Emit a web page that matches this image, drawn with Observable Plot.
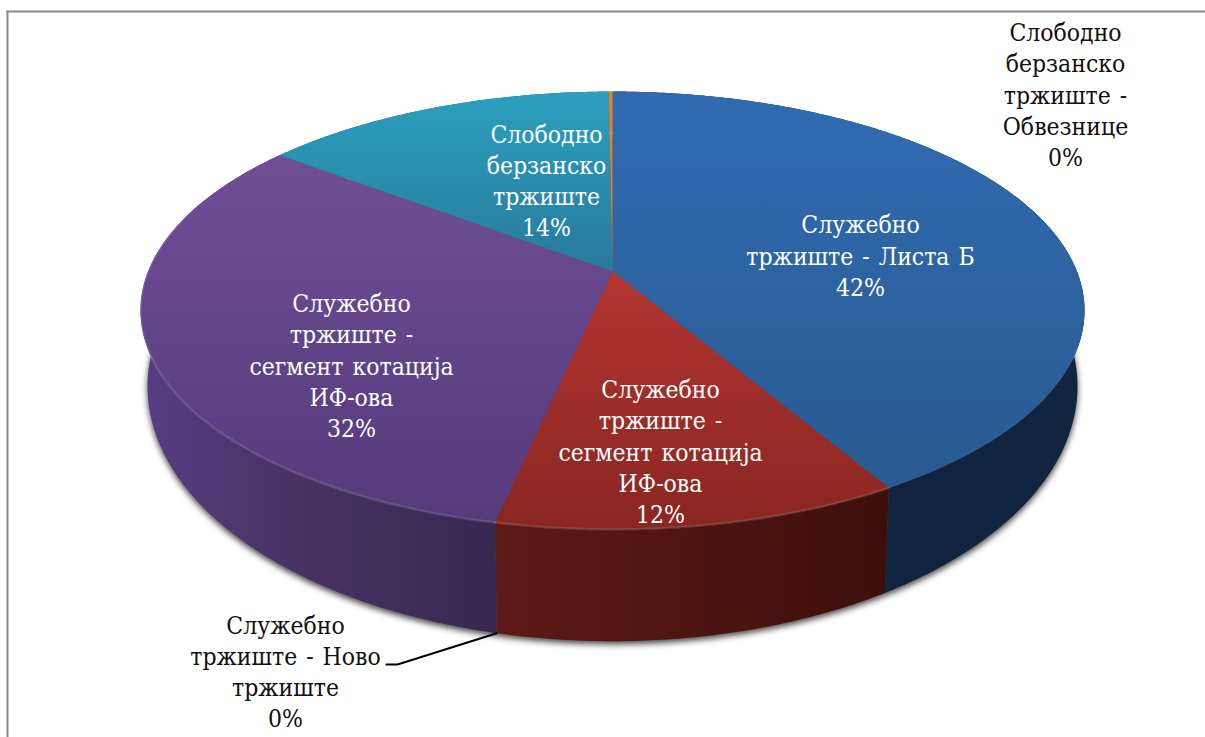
<!DOCTYPE html>
<html>
<head>
<meta charset="utf-8">
<script src="https://cdn.jsdelivr.net/npm/d3@7"></script>
<script src="https://cdn.jsdelivr.net/npm/@observablehq/plot@0.6"></script>
<style>html,body{margin:0;padding:0;background:#fff}svg{display:block}svg text{word-spacing:2px}</style>
</head>
<body>
<div id="chart"></div>
<script>
// Data, in drawing order clockwise from twelve o'clock
const categories = [
  "Служебно\nтржиште - Листа Б",
  "Служебно\nтржиште -\nсегмент котација\nИФ-ова",
  "Служебно\nтржиште - Ново\nтржиште",
  "Служебно\nтржиште -\nсегмент котација\nИФ-ова",
  "Слободно\nберзанско\nтржиште",
  "Слободно\nберзанско\nтржиште -\nОбвезнице"
];
const values = [41.6, 11.75, 0, 32.05, 14.45, 0.15];
const percents = ["42%", "12%", "0%", "32%", "14%", "0%"];

// Styling and layout, separate from the data
const topFills = ["url(#t0)", "url(#t1)", "#555", "url(#t3)", "url(#t4)", "#e08030"];
const sideFills = ["#10243f", "url(#s1)", "#555", "url(#s3)", "#1f6070", "#8a5020"];
const labelCenters = [[860, 254], [660, 450], [285, 670], [351, 364], [546, 179], [1065, 93]];
const labelColors = ["#fff", "#fff", "#111", "#fff", "#fff", "#111"];

const cx = 612, cy = 271, A = 212, B = 464.5, K = 0.178;
const baseSX = 0.985, baseSY = 1.164, baseCy = 340.5;
function face(theta, sx, sy, yc) {
  const u = Math.sin(theta), v = Math.cos(theta), d = 1 + K * v;
  return {x: cx + sx * B * u / d, y: yc - sy * A * v / d};
}
const topAt = t => face(t, 1, 1, cy);
const baseAt = t => face(t, baseSX, baseSY, baseCy);
const total = d3.sum(values);
let acc = 0;
const slices = values.map((v, i) => {
  const a0 = acc / total * 2 * Math.PI; acc += v;
  return {i, a0, a1: acc / total * 2 * Math.PI};
}).filter(s => s.a1 > s.a0);

function arc(a0, a1, at) {
  const n = Math.max(2, Math.ceil((a1 - a0) / 0.01));
  return d3.range(n + 1).map(k => at(a0 + (a1 - a0) * k / n));
}
const topPts = slices.flatMap(s => [{x: cx, y: cy}, ...arc(s.a0, s.a1, topAt)].map(p => ({...p, slice: s.i})));
const sidePts = slices.flatMap(s => [...arc(s.a0, s.a1, topAt), ...arc(s.a0, s.a1, baseAt).reverse()].map(p => ({...p, slice: s.i})));
// faint light rim on the front edge of the red and purple faces
const rimEnd = 285 * Math.PI / 180;
const rimPts = slices.filter(s => s.i === 1 || s.i === 3).flatMap(s => arc(s.a0, Math.min(s.a1, rimEnd), topAt).map(p => ({...p, slice: s.i})));
const basePts = arc(0, 2 * Math.PI, baseAt);

// The zero-value slice sits on the red/purple boundary; its leader ends on the base there
const zeroAngle = slices.find(s => s.i === 3).a0;
const leader = [{x: 386, y: 664}, {x: 397, y: 664}, baseAt(zeroAngle)];

const labels = categories.map((c, i) => ({
  text: (c + "\n" + percents[i]),
  x: labelCenters[i][0], y: labelCenters[i][1], color: labelColors[i]
}));

function defs() {
  const svg = d3.create("svg:defs");
  const grad = (id, x1, y1, x2, y2, stops) => {
    const g = svg.append("linearGradient").attr("id", id).attr("gradientUnits", "userSpaceOnUse")
      .attr("x1", x1).attr("y1", y1).attr("x2", x2).attr("y2", y2);
    stops.forEach(([o, c]) => g.append("stop").attr("offset", o).attr("stop-color", c));
  };
  grad("t0", 0, 91, 0, 495, [[0, "#306bb2"], [1, "#295a90"]]);
  grad("t1", 0, 271, 0, 528, [[0, "#b33530"], [1, "#8a2622"]]);
  grad("t3", 0, 155, 0, 525, [[0, "#6f4e96"], [1, "#553a7c"]]);
  grad("t4", 0, 91, 0, 272, [[0, "#2ba0be"], [1, "#28799c"]]);
  grad("s1", 497, 0, 885, 0, [[0, "#5e1a16"], [1, "#3d0f0b"]]);
  grad("s3", 145, 0, 497, 0, [[0, "#563c82"], [0.35, "#4b3468"], [1, "#37284f"]]);
  return svg.node();
}

const plot = Plot.plot({
  width: 1205, height: 737, margin: 0,
  x: {domain: [0, 1205], range: [0, 1205], axis: null},
  y: {domain: [0, 737], range: [0, 737], axis: null},
  marks: [
    defs,
    Plot.ruleX([7], {y1: 11, y2: 737, stroke: "#888", strokeWidth: 2}),
    Plot.ruleY([11], {x1: 6, x2: 1205, stroke: "#888", strokeWidth: 2}),
    Plot.line(basePts, {x: "x", y: "y", fill: "#444", stroke: "none", dy: 3, imageFilter: "blur(3px)"}),
    ...slices.map(s => Plot.line(sidePts.filter(p => p.slice === s.i), {x: "x", y: "y", fill: sideFills[s.i], stroke: "none"})),
    ...slices.map(s => Plot.line(topPts.filter(p => p.slice === s.i), {x: "x", y: "y", fill: topFills[s.i], stroke: "none"})),
    Plot.line(rimPts, {x: "x", y: "y", z: "slice", stroke: "#fff", strokeOpacity: 0.12, strokeWidth: 2.5}),
    Plot.line(leader, {x: "x", y: "y", stroke: "#000", strokeWidth: 2}),
    Plot.text(labels, {
      x: "x", y: "y", text: "text", fill: "color",
      fontFamily: "'DejaVu Serif Condensed', 'DejaVu Serif'", fontSize: 24.5, lineHeight: 31.3 / 24.5, lineAnchor: "middle", textAnchor: "middle"
    })
  ]
});
document.getElementById("chart").append(plot);
</script>
</body>
</html>
